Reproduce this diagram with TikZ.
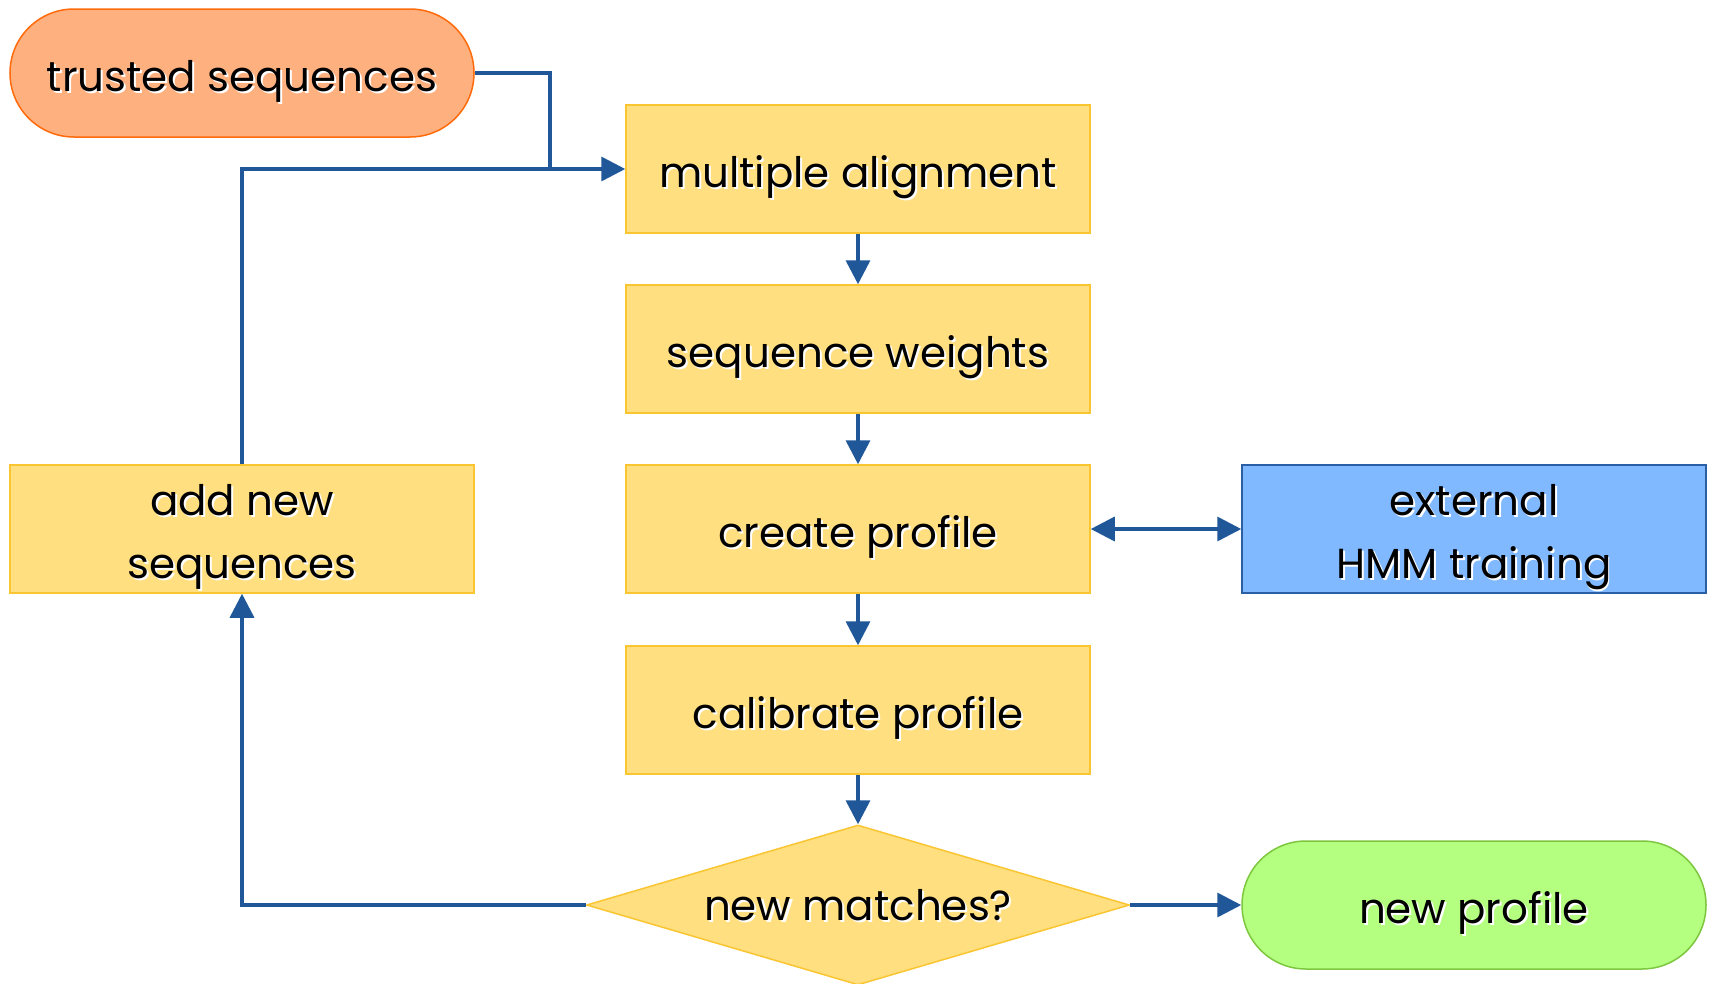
\documentclass[tikz,border=0pt]{standalone}
\usepackage{fontspec}
\setmainfont{Poppins}
\usetikzlibrary{shapes.geometric,arrows.meta}

\definecolor{boxfill}{HTML}{FFDF80}
\definecolor{boxline}{HTML}{F9C531}
\definecolor{startfill}{HTML}{FFB07F}
\definecolor{startline}{HTML}{FF6A0A}
\definecolor{extfill}{HTML}{80B9FF}
\definecolor{extline}{HTML}{2B5FA5}
\definecolor{endfill}{HTML}{B4FF80}
\definecolor{endline}{HTML}{7DC73F}
\definecolor{flowcol}{HTML}{1F5799}

% text with a white drop shadow
\newcommand{\shd}[2][-9pt]{\leavevmode\raisebox{#1}[\height][\depth]{%
  \rlap{\hspace{2pt}\raisebox{-2pt}{\color{white}#2}}#2}}

\tikzset{
  base/.style={minimum width=464pt,minimum height=128pt,inner sep=0pt,
    font=\fontsize{42}{63}\selectfont,align=center,line width=1.5pt},
  process/.style={base,rectangle,draw=boxline,fill=boxfill},
  terminal/.style={base,rectangle,rounded corners=64pt},
  decision/.style={base,diamond,shape aspect=3.4,draw=boxline,fill=boxfill,
    minimum width=543pt,minimum height=160pt},
  flow/.style={draw=flowcol,line width=3.5pt,-{Triangle[length=24pt,width=24pt]}}
}

\begin{document}
\begin{tikzpicture}[x=1pt,y=-1pt]
\useasboundingbox (0,0) rectangle (1713,983);

\node[terminal,draw=startline,fill=startfill] (trusted) at (242,73) {\shd{trusted sequences}};
\node[process] (align) at (858,169) {\shd{multiple alignment}};
\node[process] (weights) at (858,349) {\shd{sequence weights}};
\node[process] (create) at (858,529) {\shd{create profile}};
\node[process] (calib) at (858,710) {\shd{calibrate profile}};
\node[decision] (matches) at (858,905) {\shd[-1pt]{new matches?}};
\node[process,draw=extline,fill=extfill] (hmm) at (1474,529) {\shd{external}\\\shd{HMM training}};
\node[terminal,draw=endline,fill=endfill] (newprof) at (1474,905) {\shd{new profile}};
\node[process] (addseq) at (242,529) {\shd{add new}\\\shd{sequences}};

\coordinate (join) at (550,169);

\draw[flow,-] (trusted.east) -| (join);
\draw[flow] (addseq.north) |- (align.west);
\draw[flow] (align) -- (weights);
\draw[flow] (weights) -- (create);
\draw[flow] (create) -- (calib);
\draw[flow] (calib) -- (matches);
\draw[flow,{Triangle[length=24pt,width=24pt]}-{Triangle[length=24pt,width=24pt]}] (create) -- (hmm);
\draw[flow] (matches) -- (newprof);
\draw[flow] (matches.west) -| (addseq.south);

\end{tikzpicture}
\end{document}
